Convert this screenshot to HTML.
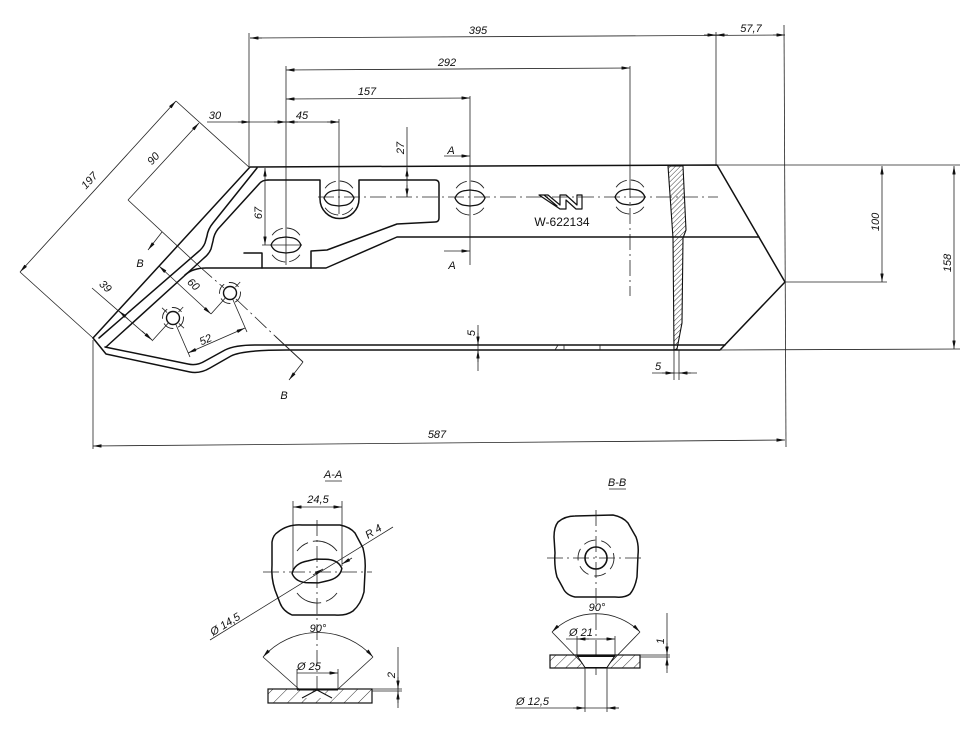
<!DOCTYPE html>
<html><head><meta charset="utf-8"><style>
html,body{margin:0;padding:0;background:#fff;}
svg{display:block}
.o{stroke:#111;stroke-width:1.5;fill:none;stroke-linejoin:round;stroke-linecap:round}
.d{stroke:#222;stroke-width:0.8;fill:none}
.c{stroke:#222;stroke-width:0.8;fill:none;stroke-dasharray:16 4 2 4}
.ds{stroke:#222;stroke-width:0.9;fill:none;stroke-dasharray:12 4}
text{font-family:"Liberation Sans",Arial,sans-serif;font-size:11px;font-style:italic;fill:#111}
</style></head><body>
<svg width="980" height="747" viewBox="0 0 980 747" xmlns="http://www.w3.org/2000/svg">
<defs>
<marker id="a" viewBox="0 0 10 4" refX="10" refY="2" markerWidth="9" markerHeight="3.4" markerUnits="userSpaceOnUse" orient="auto-start-reverse"><path d="M0,0L10,2L0,4z" fill="#111"/></marker>
<pattern id="hb" patternUnits="userSpaceOnUse" width="3.5" height="3.5" patternTransform="rotate(45)"><line x1="0" y1="0" x2="0" y2="3.5" stroke="#222" stroke-width="0.9"/></pattern>
<pattern id="hp" patternUnits="userSpaceOnUse" width="10" height="10" patternTransform="rotate(45)"><line x1="0" y1="0" x2="0" y2="10" stroke="#222" stroke-width="0.9"/></pattern>
<pattern id="hq" patternUnits="userSpaceOnUse" width="8" height="8" patternTransform="rotate(45)"><line x1="0" y1="0" x2="0" y2="8" stroke="#222" stroke-width="0.9"/></pattern>
<g id="lens">
<path class="o" d="M-15,0 Q-12,-7 -4,-7.5 L0,-8 L4,-7.5 Q12,-7 15,0 Q12,7 4,7.5 L0,8 L-4,7.5 Q-12,7 -15,0Z" style="stroke-width:1.3"/>
<path d="M-13.9,-9.8 A17,17 0 0 1 13.9,-9.8 M13.9,9.8 A17,17 0 0 1 -13.9,9.8" fill="none" stroke="#222" stroke-width="0.9" stroke-dasharray="13 4 16"/>
</g>
</defs>

<!-- ===== top dimensions ===== -->
<line class="d" x1="250" y1="38" x2="785" y2="35"/>
<line class="d" x1="262" y1="38" x2="250" y2="38" marker-end="url(#a)"/>
<line class="d" x1="704" y1="35" x2="716" y2="35" marker-end="url(#a)"/>
<line class="d" x1="728" y1="35" x2="716" y2="35" marker-end="url(#a)"/>
<line class="d" x1="773" y1="35" x2="785" y2="35" marker-end="url(#a)"/>
<text x="478" y="34" text-anchor="middle">395</text>
<text x="751" y="32" text-anchor="middle">57,7</text>

<line class="d" x1="286" y1="70" x2="630" y2="68" marker-start="url(#a)" marker-end="url(#a)"/>
<text x="447" y="66" text-anchor="middle">292</text>
<line class="d" x1="286" y1="99" x2="470" y2="98" marker-start="url(#a)" marker-end="url(#a)"/>
<text x="367" y="95" text-anchor="middle">157</text>
<line class="d" x1="207" y1="122" x2="339" y2="122"/>
<line class="d" x1="238" y1="122" x2="250" y2="122" marker-end="url(#a)"/>
<line class="d" x1="274" y1="122" x2="286" y2="122" marker-end="url(#a)"/>
<line class="d" x1="298" y1="122" x2="286" y2="122" marker-end="url(#a)"/>
<line class="d" x1="327" y1="122" x2="339" y2="122" marker-end="url(#a)"/>
<text x="215" y="119" text-anchor="middle">30</text>
<text x="302" y="119" text-anchor="middle">45</text>

<!-- extension lines -->
<line class="d" x1="249" y1="33" x2="249" y2="167"/>
<line class="d" x1="286" y1="66" x2="286" y2="265"/>
<line class="d" x1="339" y1="119" x2="339" y2="214"/>
<line class="d" x1="470" y1="96" x2="470" y2="265"/>
<line class="d" x1="630" y1="66" x2="630" y2="182"/>
<line class="c" x1="630" y1="182" x2="630" y2="296"/>
<line class="d" x1="716" y1="32" x2="716" y2="166"/>
<line class="d" x1="784" y1="25" x2="786" y2="447"/>
<line class="d" x1="93" y1="340" x2="93" y2="449"/>

<!-- 587 -->
<line class="d" x1="93" y1="446" x2="785" y2="440" marker-start="url(#a)" marker-end="url(#a)"/>
<text x="437" y="438" text-anchor="middle">587</text>

<!-- ===== main body ===== -->
<path class="o" d="M250,167 L717,165 L785,282 L720,350 L287,350 Q242,350 231,356 L210,368 Q200,374 190,372 L106,354 L93,338 Z"/>
<path class="o" d="M105,347 L188,364 Q197,366 205,361 L225,350 Q235,345 255,345 L725,345"/>
<path class="o" d="M257,168 L213,223 Q208,229 207,236 L205,243 Q203,248 198,252 L99,338"/>
<path class="o" d="M268,180 Q262,180 259,184 L218,229 Q214,234 213,241 L211,249 Q209,254 204,258 L106,347"/>
<path class="o" d="M185,275 Q193,268 206,268 L326,268 L397,237 L759,237"/>
<path class="o" d="M268,180 L320,180 L320,199 A19.5,19.5 0 0 0 359,199 L359,180 L435,180 Q439,180 439,184 L439,218 Q439,222 435,222 L397,224 L327,250 L311,251 L311,268"/>
<path class="o" d="M244,253 L262,253 L262,268"/>
<path class="d" d="M555,350 L558,345 M564,345 L564,350 M600,345 L600,350"/>

<!-- hatched cut band -->
<path d="M668,166 L683,166 L686,230 L683,238 L682,323 L677,349 L674,350 L673,238 Z" fill="url(#hb)" stroke="#111" stroke-width="1.1"/>

<!-- centre line -->
<line class="c" x1="318" y1="197" x2="718" y2="197"/>

<!-- slots -->
<use href="#lens" x="339" y="198"/>
<use href="#lens" x="470" y="198"/>
<use href="#lens" x="630" y="197"/>
<use href="#lens" x="286" y="245"/>
<line class="d" x1="262" y1="245" x2="302" y2="245"/>

<!-- logo -->
<path class="o" style="stroke-width:1.2" d="M539,195 L548,195 L560,205 L560,195 L566,195 L577,205 L577,195 L582,195 L582,209 L576,209 L566,200 L566,209 L560,209 Z M544,195 L557,206"/>
<text x="562" y="226" text-anchor="middle" style="font-style:normal;font-size:12px">W-622134</text>

<!-- 27 -->
<line class="d" x1="407" y1="127" x2="407" y2="197"/>
<line class="d" x1="407" y1="180" x2="407" y2="168" marker-end="url(#a)"/>
<line class="d" x1="407" y1="185" x2="407" y2="197" marker-end="url(#a)"/>
<text transform="translate(404,148) rotate(-90)" text-anchor="middle">27</text>
<!-- 67 -->
<line class="d" x1="265" y1="168" x2="265" y2="245" marker-start="url(#a)" marker-end="url(#a)"/>
<text transform="translate(262,213) rotate(-90)" text-anchor="middle">67</text>

<!-- A markers -->
<line class="d" x1="444" y1="156" x2="470" y2="156" marker-end="url(#a)"/>
<text x="451" y="154" text-anchor="middle">A</text>
<line class="d" x1="444" y1="251" x2="470" y2="251" marker-end="url(#a)"/>
<text x="452" y="269" text-anchor="middle">A</text>

<!-- right dims -->
<line class="d" x1="717" y1="165" x2="960" y2="165"/>
<line class="d" x1="785" y1="282" x2="887" y2="282"/>
<line class="d" x1="720" y1="350" x2="960" y2="349"/>
<line class="d" x1="882" y1="166" x2="882" y2="282" marker-start="url(#a)" marker-end="url(#a)"/>
<text transform="translate(879,222) rotate(-90)" text-anchor="middle">100</text>
<line class="d" x1="954" y1="166" x2="954" y2="349" marker-start="url(#a)" marker-end="url(#a)"/>
<text transform="translate(951,263) rotate(-90)" text-anchor="middle">158</text>

<!-- 5 vertical -->
<line class="d" x1="478" y1="325" x2="478" y2="371"/>
<line class="d" x1="478" y1="333" x2="478" y2="345" marker-end="url(#a)"/>
<line class="d" x1="478" y1="362" x2="478" y2="350" marker-end="url(#a)"/>
<text transform="translate(475,333) rotate(-90)" text-anchor="middle">5</text>
<!-- 5 horizontal -->
<line class="d" x1="674" y1="350" x2="674" y2="380"/>
<line class="d" x1="679" y1="350" x2="679" y2="380"/>
<line class="d" x1="652" y1="373" x2="697" y2="373"/>
<line class="d" x1="662" y1="373" x2="674" y2="373" marker-end="url(#a)"/>
<line class="d" x1="691" y1="373" x2="679" y2="373" marker-end="url(#a)"/>
<text x="658" y="370" text-anchor="middle">5</text>

<!-- ===== left angled dims ===== -->
<line class="d" x1="176" y1="101" x2="250" y2="168"/>
<line class="d" x1="20" y1="272" x2="93" y2="338"/>
<line class="d" x1="20" y1="272" x2="176" y2="101" marker-start="url(#a)" marker-end="url(#a)"/>
<text transform="translate(92,183) rotate(-47.6)" text-anchor="middle">197</text>
<line class="d" x1="199" y1="123" x2="128" y2="200" marker-start="url(#a)"/>
<text transform="translate(156,161) rotate(-47.6)" text-anchor="middle">90</text>

<!-- B-B cutting line -->
<line class="d" x1="128" y1="200" x2="200" y2="267"/>
<line class="c" x1="200" y1="267" x2="224" y2="288"/>
<line class="c" x1="236" y1="299" x2="275" y2="336"/>
<line class="d" x1="275" y1="336" x2="303" y2="362" style="stroke-width:1"/>
<line class="d" x1="162" y1="232" x2="148" y2="250" marker-end="url(#a)"/>
<line class="d" x1="303" y1="362" x2="289" y2="380" marker-end="url(#a)"/>
<text x="140" y="267" text-anchor="middle">B</text>
<text x="284" y="399" text-anchor="middle">B</text>

<!-- holes lower left -->
<circle cx="173" cy="318" r="6.5" class="o" style="stroke-width:1.4"/>
<circle cx="173" cy="318" r="10.5" fill="none" stroke="#222" stroke-width="0.9" stroke-dasharray="11 5"/>
<circle cx="230" cy="293" r="6.5" class="o" style="stroke-width:1.4"/>
<circle cx="230" cy="293" r="10.5" fill="none" stroke="#222" stroke-width="0.9" stroke-dasharray="11 5"/>
<line class="d" x1="178.4" y1="312.1" x2="183.2" y2="307"/>
<line class="d" x1="167.1" y1="312.6" x2="162" y2="307.8"/>
<line class="d" x1="178.9" y1="323.4" x2="184" y2="328.2"/>
<line class="d" x1="235.4" y1="287.1" x2="240.2" y2="282"/>

<!-- 39 -->
<line class="d" x1="168.2" y1="323.1" x2="152" y2="341"/>
<line class="d" x1="92" y1="288" x2="152" y2="340"/>
<line class="d" x1="128" y1="319" x2="119" y2="311" marker-end="url(#a)"/>
<line class="d" x1="142" y1="331" x2="152" y2="340" marker-end="url(#a)"/>
<text transform="translate(103,289) rotate(42.7)" text-anchor="middle">39</text>
<!-- 60 -->
<line class="d" x1="225.2" y1="298.1" x2="211" y2="314"/>
<line class="d" x1="159" y1="266" x2="211" y2="314" marker-start="url(#a)" marker-end="url(#a)"/>
<text transform="translate(191,287) rotate(42.7)" text-anchor="middle">60</text>
<!-- 52 -->
<line class="d" x1="175.8" y1="324.4" x2="190" y2="357"/>
<line class="d" x1="232.8" y1="299.4" x2="247" y2="332"/>
<line class="d" x1="188" y1="353" x2="245" y2="328" marker-start="url(#a)" marker-end="url(#a)"/>
<text transform="translate(207,343) rotate(-23.7)" text-anchor="middle">52</text>

<!-- ===== Section A-A ===== -->
<text x="333" y="478" text-anchor="middle">A-A</text>
<line class="d" x1="325" y1="481" x2="342" y2="481"/>
<line class="d" x1="293" y1="501" x2="293" y2="570"/>
<line class="d" x1="342" y1="501" x2="342" y2="566"/>
<line class="d" x1="293" y1="507" x2="342" y2="507" marker-start="url(#a)" marker-end="url(#a)"/>
<text x="318" y="503" text-anchor="middle">24,5</text>
<path class="o" d="M278,532 Q288,524 302,525 L340,525 Q350,527 355,533 L363,548 Q366,560 365,572 L364,592 Q361,604 353,611 Q346,616 335,615 L292,615 Q283,611 280,603 L275,590 Q271,578 272,565 L272,542 Q273,535 278,532 Z"/>
<line class="c" x1="263" y1="572" x2="372" y2="572"/>
<line class="c" x1="317" y1="520" x2="317" y2="700"/>
<path class="o" transform="translate(317,571) rotate(-6)" d="M-25,0 Q-22,-10 -8,-11 L0,-12 L8,-11 Q22,-10 25,0 Q22,10 8,11 L0,12 L-8,11 Q-22,10 -25,0Z"/>
<path d="M297,551 A25,25 0 0 1 337,551 M337,593 A25,25 0 0 1 297,593" fill="none" stroke="#222" stroke-width="0.9" stroke-dasharray="14 5 30"/>
<line class="d" x1="210" y1="640" x2="393" y2="527"/>
<line class="d" x1="352" y1="558" x2="342" y2="564" marker-end="url(#a)"/>
<line class="d" x1="313" y1="575" x2="323" y2="569" marker-end="url(#a)"/>
<text transform="translate(213,636) rotate(-31.7)">Ø 14,5</text>
<text transform="translate(368,539) rotate(-31.7)">R 4</text>
<!-- 90 A -->
<path class="d" d="M263,657 A74,74 0 0 1 373,657" marker-start="url(#a)" marker-end="url(#a)"/>
<text x="318" y="632" text-anchor="middle">90°</text>
<line class="d" x1="263" y1="657" x2="300" y2="690"/>
<line class="d" x1="373" y1="657" x2="337" y2="690"/>
<!-- Ø25 -->
<line class="d" x1="297" y1="669" x2="297" y2="689"/>
<line class="d" x1="338" y1="669" x2="338" y2="689"/>
<line class="d" x1="297" y1="673" x2="338" y2="673" marker-end="url(#a)"/>
<text x="297" y="670">Ø 25</text>
<!-- plate A -->
<rect x="268" y="689" width="104" height="14" fill="url(#hp)" stroke="#111" stroke-width="1.2"/>
<line x1="297" y1="689.5" x2="338" y2="689.5" stroke="#111" stroke-width="2"/>
<path d="M302,698 L317,690 L332,698" fill="#fff" stroke="#111" stroke-width="1"/>
<line class="d" x1="372" y1="689" x2="402" y2="689"/>
<line class="d" x1="372" y1="691" x2="402" y2="691"/>
<line class="d" x1="398" y1="647" x2="398" y2="708"/>
<line class="d" x1="398" y1="677" x2="398" y2="689" marker-end="url(#a)"/>
<line class="d" x1="398" y1="703" x2="398" y2="691" marker-end="url(#a)"/>
<text transform="translate(395,675) rotate(-90)" text-anchor="middle">2</text>

<!-- ===== Section B-B ===== -->
<text x="617" y="486" text-anchor="middle">B-B</text>
<line class="d" x1="609" y1="489" x2="626" y2="489"/>
<path class="o" d="M558,522 Q565,516 575,516 L613,515 Q623,517 628,523 L636,537 Q639,545 638,555 L637,577 Q635,588 630,594 Q625,598 615,597 L575,597 Q566,595 563,588 L557,577 Q554,566 555,553 L554,537 Q554,527 558,522 Z"/>
<line class="c" x1="547" y1="558" x2="645" y2="558"/>
<line class="c" x1="596" y1="510" x2="596" y2="675"/>
<circle cx="596" cy="558" r="11" class="o" style="stroke-width:1.6"/>
<circle cx="596" cy="558" r="18" fill="none" stroke="#222" stroke-width="0.9" stroke-dasharray="12 6"/>
<path class="d" d="M552,632 A62,62 0 0 1 640,632" marker-start="url(#a)" marker-end="url(#a)"/>
<text x="597" y="611" text-anchor="middle">90°</text>
<line class="d" x1="552" y1="632" x2="585" y2="666"/>
<line class="d" x1="640" y1="632" x2="607" y2="666"/>
<line class="d" x1="577" y1="636" x2="577" y2="657"/>
<line class="d" x1="615" y1="636" x2="615" y2="657"/>
<line class="d" x1="566" y1="639" x2="615" y2="639" marker-end="url(#a)"/>
<line class="d" x1="589" y1="639" x2="577" y2="639" marker-end="url(#a)"/>
<text x="569" y="636">Ø 21</text>
<rect x="550" y="655" width="90" height="13" fill="url(#hq)" stroke="#111" stroke-width="1.2"/>
<path d="M577,655.5 L615,655.5 L607,667.5 L585,667.5 Z" fill="#fff" stroke="#111" stroke-width="1"/>
<line x1="577" y1="656" x2="615" y2="656" stroke="#111" stroke-width="2"/>
<line class="d" x1="585" y1="668" x2="585" y2="712"/>
<line class="d" x1="607" y1="668" x2="607" y2="712"/>
<line class="d" x1="515" y1="708" x2="619" y2="708"/>
<line class="d" x1="573" y1="708" x2="585" y2="708" marker-end="url(#a)"/>
<line class="d" x1="619" y1="708" x2="607" y2="708" marker-end="url(#a)"/>
<text x="516" y="705">Ø 12,5</text>
<line class="d" x1="640" y1="655" x2="670" y2="655"/>
<line class="d" x1="640" y1="657" x2="670" y2="657"/>
<line class="d" x1="667" y1="613" x2="667" y2="673"/>
<line class="d" x1="667" y1="643" x2="667" y2="655" marker-end="url(#a)"/>
<line class="d" x1="667" y1="669" x2="667" y2="657" marker-end="url(#a)"/>
<text transform="translate(664,641) rotate(-90)" text-anchor="middle">1</text>
</svg>
</body></html>
